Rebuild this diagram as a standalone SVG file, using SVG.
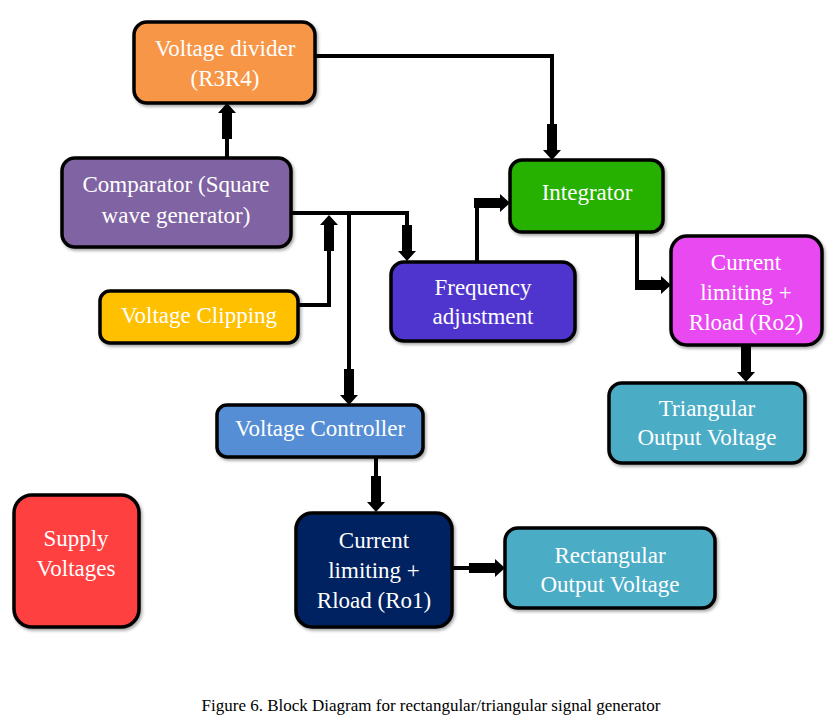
<svg xmlns="http://www.w3.org/2000/svg" xmlns:xlink="http://www.w3.org/1999/xlink" width="838" height="723" viewBox="0 0 838 723">
<style>
  .box { stroke: #000; stroke-width: 3.5; filter: url(#sh); }
  .lbl { font-family: "Liberation Serif", "Times New Roman", serif; font-size: 23px; fill: #ffffff; text-anchor: middle; }
  .cap { font-family: "Liberation Serif", "Times New Roman", serif; font-size: 17px; fill: #000; text-anchor: middle; }
  .wire { fill: none; stroke: #000; stroke-width: 4; stroke-linejoin: miter; }
  .ah { fill: #000; }
</style>
<defs>
  <filter id="sh" x="-10%" y="-10%" width="125%" height="130%">
    <feDropShadow dx="1.5" dy="2" stdDeviation="1.5" flood-color="#000" flood-opacity="0.35"/>
  </filter>
  <!-- block arrow pointing right, tip at origin -->
  <path id="ah" d="M0,0 L-10,-9 L-10,-5 L-36,-5 L-36,5 L-10,5 L-10,9 Z"/>
</defs>
<rect width="838" height="723" fill="#ffffff"/>

<g id="voltage-divider">
  <rect class="box" x="134" y="22" width="181" height="81" rx="13" fill="#F79646"/>
  <text class="lbl" x="225" y="56">Voltage divider</text>
  <text class="lbl" x="225" y="86">(R3R4)</text>
</g>
<g id="comparator">
  <rect class="box" x="62" y="158" width="229" height="89" rx="13" fill="#8064A2"/>
  <text class="lbl" x="176" y="192">Comparator (Square</text>
  <text class="lbl" x="176" y="223">wave generator)</text>
</g>
<g id="voltage-clipping">
  <rect class="box" x="100" y="291" width="198" height="52" rx="10" fill="#FFC000"/>
  <text class="lbl" x="199" y="323">Voltage Clipping</text>
</g>
<g id="frequency-adjustment">
  <rect class="box" x="391" y="262" width="184" height="79" rx="13" fill="#4F36CE"/>
  <text class="lbl" x="483" y="295">Frequency</text>
  <text class="lbl" x="483" y="324">adjustment</text>
</g>
<g id="integrator">
  <rect class="box" x="510" y="160" width="153" height="72" rx="12" fill="#25B000"/>
  <text class="lbl" x="587" y="200">Integrator</text>
</g>
<g id="current-limiting-ro2">
  <rect class="box" x="671" y="236" width="151" height="109" rx="16" fill="#E848F0"/>
  <text class="lbl" x="746" y="270">Current</text>
  <text class="lbl" x="746" y="300">limiting +</text>
  <text class="lbl" x="746" y="330">Rload (Ro2)</text>
</g>
<g id="triangular-output">
  <rect class="box" x="609" y="383" width="196" height="80" rx="13" fill="#4BACC6"/>
  <text class="lbl" x="707" y="416">Triangular</text>
  <text class="lbl" x="707" y="445">Output Voltage</text>
</g>
<g id="voltage-controller">
  <rect class="box" x="217" y="405" width="206" height="52" rx="10" fill="#558ED5"/>
  <text class="lbl" x="320" y="436">Voltage Controller</text>
</g>
<g id="supply-voltages">
  <rect class="box" x="14" y="495" width="125" height="132" rx="18" fill="#FF3F3F"/>
  <text class="lbl" x="76" y="546">Supply</text>
  <text class="lbl" x="76" y="576">Voltages</text>
</g>
<g id="current-limiting-ro1">
  <rect class="box" x="296" y="513" width="156" height="114" rx="16" fill="#002060"/>
  <text class="lbl" x="374" y="548">Current</text>
  <text class="lbl" x="374" y="578">limiting +</text>
  <text class="lbl" x="374" y="608">Rload (Ro1)</text>
</g>
<g id="rectangular-output">
  <rect class="box" x="505" y="528" width="210" height="80" rx="13" fill="#4BACC6"/>
  <text class="lbl" x="610" y="563">Rectangular</text>
  <text class="lbl" x="610" y="592">Output Voltage</text>
</g>

<g id="connectors">
  <path class="wire" d="M315,56 H552 V130"/>
  <path class="wire" d="M227,158 V130"/>
  <path class="wire" d="M291,213 H407 V230"/>
  <path class="wire" d="M349,213 V372"/>
  <path class="wire" d="M298,305 H329 V245"/>
  <path class="wire" d="M477,262 V203 H480"/>
  <path class="wire" d="M637,232 V285 H640"/>
  <path class="wire" d="M746,345 V352"/>
  <path class="wire" d="M376,457 V480"/>
  <path class="wire" d="M452,568 H472"/>
  <use class="ah" xlink:href="#ah" transform="translate(227,103) rotate(-90)"/>
  <use class="ah" xlink:href="#ah" transform="translate(329,215) rotate(-90)"/>
  <use class="ah" xlink:href="#ah" transform="translate(407,261) rotate(90)"/>
  <use class="ah" xlink:href="#ah" transform="translate(349,405) rotate(90)"/>
  <use class="ah" xlink:href="#ah" transform="translate(510,203)"/>
  <use class="ah" xlink:href="#ah" transform="translate(552,160) rotate(90)"/>
  <use class="ah" xlink:href="#ah" transform="translate(671,285)"/>
  <use class="ah" xlink:href="#ah" transform="translate(746,382) rotate(90)"/>
  <use class="ah" xlink:href="#ah" transform="translate(376,512) rotate(90)"/>
  <use class="ah" xlink:href="#ah" transform="translate(505,568)"/>
</g>

<text class="cap" x="431" y="711">Figure 6. Block Diagram for rectangular/triangular signal generator</text>
</svg>
